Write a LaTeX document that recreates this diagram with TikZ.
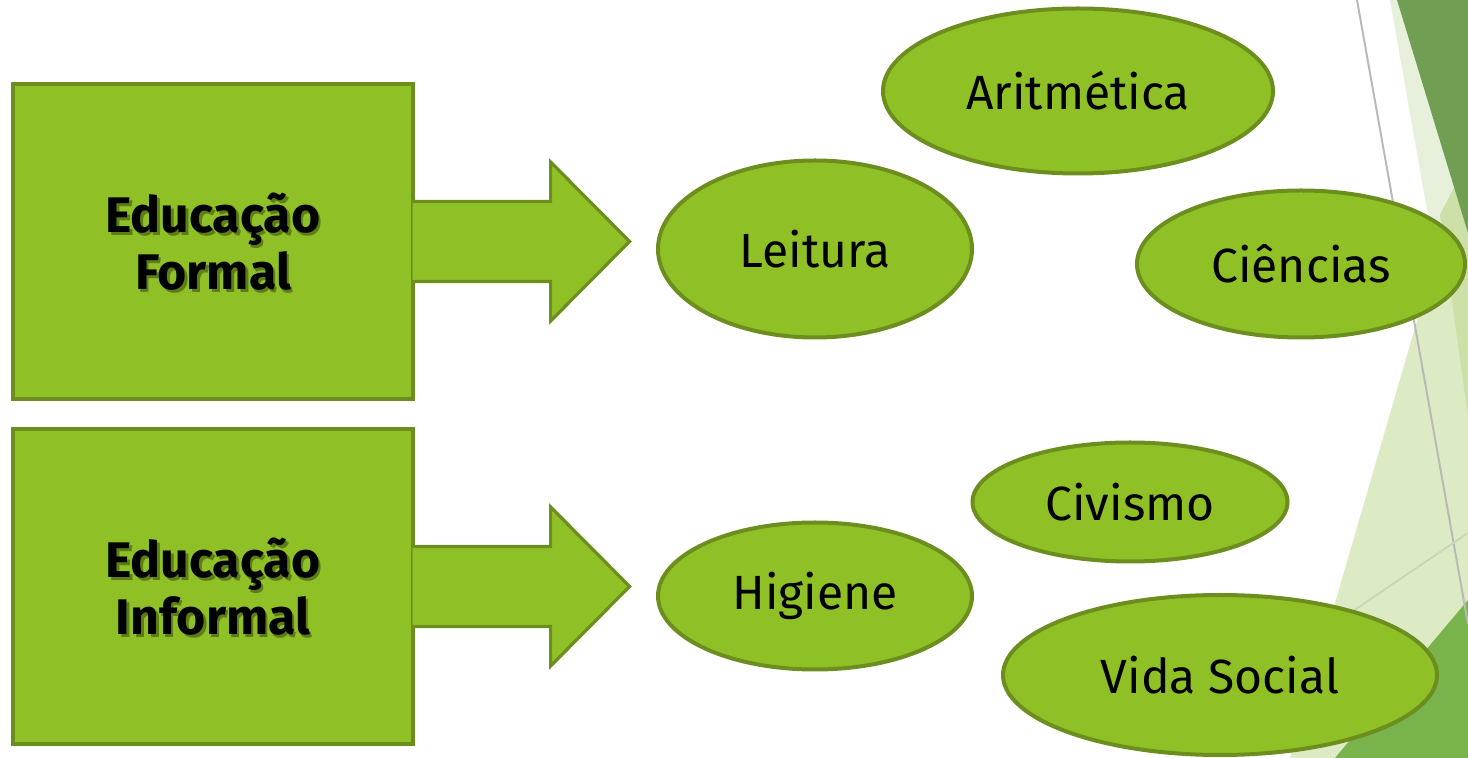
\documentclass[tikz,border=0pt]{standalone}
\usepackage{fontspec}
\setmainfont{Fira Sans}
\usetikzlibrary{shapes,positioning,calc}
\definecolor{folha}{RGB}{143,193,38}
\definecolor{contorno}{RGB}{108,142,30}
\definecolor{facetaescura}{RGB}{112,158,82}
\definecolor{facetaclara}{RGB}{221,235,196}
\definecolor{facetafaixa}{RGB}{231,240,218}
\definecolor{facetamedia}{RGB}{204,224,168}
\definecolor{facetabase}{RGB}{120,179,75}
\definecolor{linhacinza}{RGB}{185,185,185}
\definecolor{linhaverde}{RGB}{200,214,180}

\begin{document}
\begin{tikzpicture}[x=0.5pt,y=-0.5pt]
   \tikzstyle{caixa} = [draw=contorno, fill=folha, shape=rectangle, minimum width=200pt, minimum height=157.5pt, line width=1.6pt, inner sep=0pt]
\tikzstyle{bolha} = [draw=contorno, fill=folha, shape=ellipse, line width=2pt, inner sep=0pt, font=\fontsize{24}{28}\selectfont]
\tikzstyle{rotulo} = [align=center, font=\fontsize{25}{28.5}\selectfont\bfseries]
\tikzstyle{seta} = [draw=contorno, fill=folha, line width=1.6pt, line join=miter]
\useasboundingbox (0,0) rectangle (1468,758);
%Background facets
\fill[facetaclara] (1468,145) -- (1290,758) -- (1468,758) -- cycle;
\fill[facetafaixa] (1390,0) -- (1397,0) -- (1468,233) -- (1468,300) -- (1427,210) -- cycle;
\fill[facetamedia] (1440,215) -- (1468,160) -- (1468,417) -- cycle;
\fill[facetaescura] (1397,0) -- (1468,0) -- (1468,233) -- cycle;
\fill[facetabase] (1468,600) -- (1335,758) -- (1468,758) -- cycle;
\draw[linhacinza, line width=1pt] (1357,0) -- (1468,624);
\draw[linhaverde, line width=0.9pt] (1328,628) -- (1468,533);
%Creating Blocks
\node at (213,241.5) [caixa] (formal) {};
\node at (213,586.5) [caixa] (informal) {};
\draw[seta] ($(formal.east)+(-2,-40)$) -- ++(138,0) -- ++(0,-39.5) -- ++(79,79.5) -- ++(-79,79.5) -- ++(0,-39.5) -- ++(-138,0);
\draw[seta] ($(informal.east)+(-2,-40)$) -- ++(138,0) -- ++(0,-39.5) -- ++(79,79.5) -- ++(-79,79.5) -- ++(0,-39.5) -- ++(-138,0);
\node at ($(formal.center)+(2.5,3)$) [rotulo, text=black!35!folha] (formalsombra) {Educação\\Formal};
\node at (formal.center) [rotulo] (formaltexto) {Educação\\Formal};
\node at ($(informal.center)+(2.5,3)$) [rotulo, text=black!35!folha] (informalsombra) {Educação\\Informal};
\node at (informal.center) [rotulo] (informaltexto) {Educação\\Informal};
%Ellipses
\node at (815,249) [bolha, minimum width=157pt, minimum height=88.5pt] (leitura) {Leitura};
\node at (1078,91) [bolha, minimum width=195pt, minimum height=82.5pt] (aritmetica) {Aritmética};
\node at (1301,264) [bolha, minimum width=164pt, minimum height=73.5pt] (ciencias) {Ciências};
\node at (1130,502) [bolha, minimum width=157.5pt, minimum height=59.5pt] (civismo) {Civismo};
\node at (815,596) [bolha, minimum width=157pt, minimum height=73.5pt] (higiene) {Higiene};
\node at (1220,675) [bolha, minimum width=217pt, minimum height=80pt] (vidasocial) {Vida Social};
\end{tikzpicture}
\end{document}
